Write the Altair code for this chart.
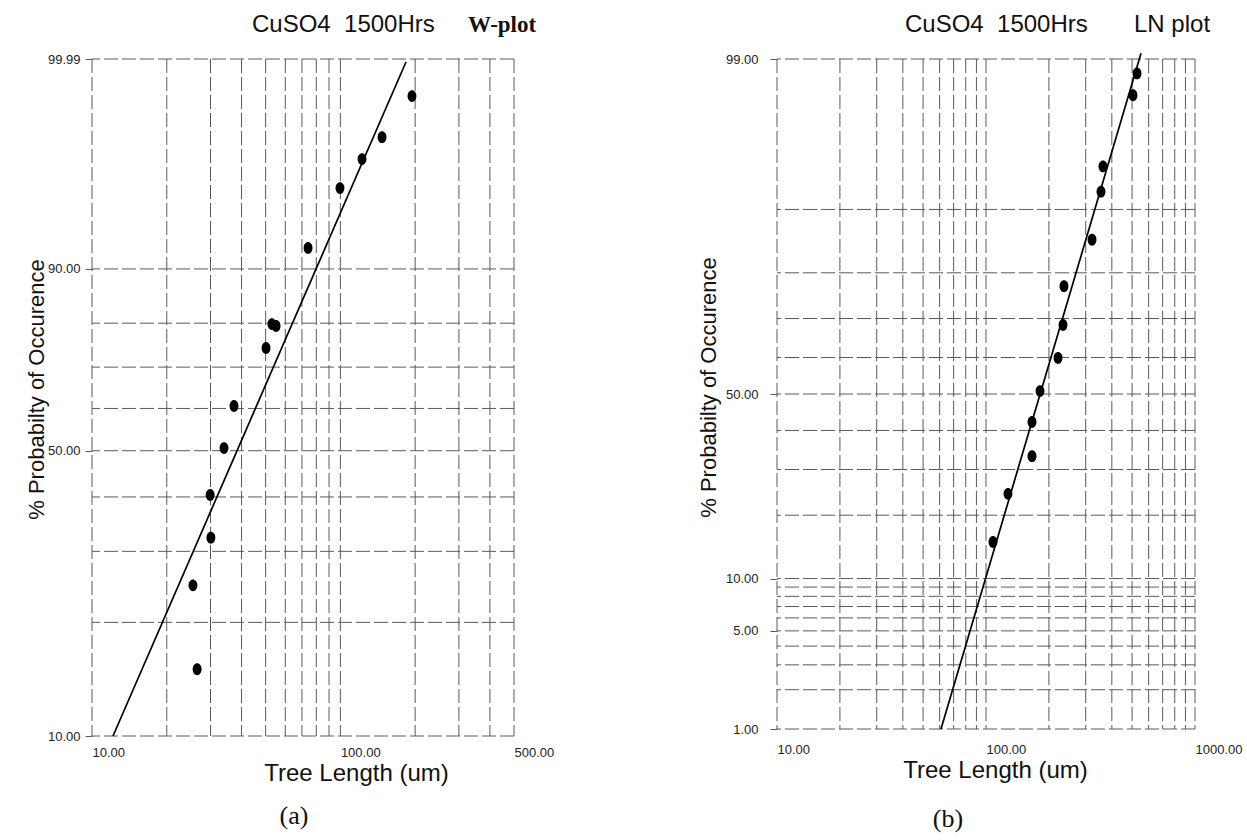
import math
from statistics import NormalDist
import altair as alt
import pandas as pd

# ---------------- panel (a): Weibull plot ----------------
a_length = [26.5, 25.5, 30.1, 29.9, 34.0, 37.3, 50.2, 53.0, 55.1, 74.1, 99.6, 122.2, 147.1, 194.2]
a_percent = [15.1, 24.8, 32.3, 40.4, 50.6, 60.6, 74.5, 79.8, 79.4, 92.9, 98.03, 99.14, 99.59, 99.926]
a_fit_length = [12.15, 183.7]
a_fit_percent = [10.0, 99.988]
a_x_grid = [10, 20, 30, 40, 50, 60, 70, 80, 90, 100, 200, 300, 400, 500]
a_y_grid = [10, 20, 30, 40, 50, 60, 70, 80, 90, 99.99]
a_x_ticks = [10, 100, 500]
a_y_ticks = [10, 50, 90, 99.99]

# ---------------- panel (b): lognormal plot ----------------
b_length = [108.0, 127.4, 166.0, 166.0, 181.3, 221.1, 233.6, 236.1, 321.6, 354.9, 362.8, 505.0, 527.9]
b_percent = [15.2, 24.4, 33.3, 42.3, 50.8, 59.9, 68.4, 77.3, 85.8, 92.0, 94.3, 98.1, 98.7]
b_fit_length = [60.9, 551.7]
b_fit_percent = [1.0, 99.1]
b_x_grid = [10, 20, 30, 40, 50, 60, 70, 80, 90, 100, 200, 300, 400, 500, 600, 700, 800, 900, 1000]
b_y_grid = [1, 2, 3, 4, 5, 6, 7, 8, 9, 10, 20, 30, 40, 50, 60, 70, 80, 90, 99]
b_x_ticks = [10, 100, 1000]
b_y_ticks = [1, 5, 10, 50, 99]

x_title = "Tree Length (um)"
y_title = "% Probabilty of Occurence"
header_main = "CuSO4\u00a0\u00a01500Hrs"
a_header = "W-plot"
b_header = "LN plot"
a_caption = "(a)"
b_caption = "(b)"


def weibull(p):
    return math.log(-math.log(1 - p / 100.0))


def normal(p):
    return NormalDist().inv_cdf(p / 100.0)


ELLIPSE = ("M0,-1C0.41,-1,0.75,-0.55,0.75,0C0.75,0.55,0.41,1,0,1"
           "C-0.41,1,-0.75,0.55,-0.75,0C-0.75,-0.55,-0.41,-1,0,-1Z")
GRID_COLOR = "#5a5a5a"


def label_expr(ticks_t, labels):
    pairs = sorted(zip(ticks_t, labels))
    expr = "'%s'" % pairs[-1][1]
    for i in range(len(pairs) - 2, -1, -1):
        mid = (pairs[i][0] + pairs[i + 1][0]) / 2
        expr = "datum.value < %.6f ? '%s' : (%s)" % (mid, pairs[i][1], expr)
    return expr


def panel(length, pct, fit_len, fit_pct, xgrid, ygrid, xticks, yticks, tf,
          xdom, ydom_pct, width, height, header2, header2_font, header2_weight,
          header2_size, hx1, hx2, caption, caption_dx, caption_offset,
          ytitle_x, ytitle_y, ytick_size, ylabel_pad, xlabel_pad, xtitle_pad, xtitle_x):
    ydom = [tf(ydom_pct[0]), tf(ydom_pct[1])]
    xscale = alt.Scale(type="log", domain=xdom, nice=False)
    yscale = alt.Scale(domain=ydom, nice=False, zero=False)
    yt = [tf(v) for v in yticks]
    xaxis = alt.Axis(values=xticks, format=".2f", labelAlign="left",
                     labelPadding=xlabel_pad, ticks=False, domain=False, grid=False,
                     labelFlush=False, labelOverlap=False,
                     title=x_title, titlePadding=xtitle_pad, titleX=xtitle_x,
                     titleAlign="center", titleBaseline="top",
                     labelFont="Liberation Sans", labelFontSize=13, labelColor="#222222",
                     titleFont="Liberation Sans", titleFontSize=24,
                     titleFontWeight="normal", titleColor="#111111")
    yaxis = alt.Axis(values=yt, labelExpr=label_expr(yt, ["%.2f" % v for v in yticks]),
                     ticks=True, tickSize=ytick_size, tickColor=GRID_COLOR,
                     domain=False, grid=False, labelPadding=ylabel_pad,
                     labelFlush=False, labelOverlap=False,
                     labelFont="Liberation Sans", labelFontSize=13, labelColor="#222222",
                     title=y_title, titleFont="Liberation Sans", titleFontSize=22,
                     titleFontWeight="normal", titleColor="#111111",
                     titleAngle=270, titleX=ytitle_x, titleY=ytitle_y,
                     titleAlign="center", titleBaseline="middle")

    def xe():
        return alt.X("x:Q", scale=xscale, axis=xaxis)

    def ye():
        return alt.Y("y:Q", scale=yscale, axis=yaxis)

    vgrid = alt.Chart(pd.DataFrame({"x": xgrid})).mark_rule(
        color=GRID_COLOR, strokeWidth=1, strokeDash=[14, 4]).encode(x=xe())
    hgrid = alt.Chart(pd.DataFrame({"y": [tf(v) for v in ygrid]})).mark_rule(
        color=GRID_COLOR, strokeWidth=1, strokeDash=[14, 4]).encode(y=ye())
    fit = alt.Chart(pd.DataFrame({"x": fit_len, "y": [tf(v) for v in fit_pct]})).mark_line(
        color="black", strokeWidth=1.7).encode(x=xe(), y=ye())
    pts = alt.Chart(pd.DataFrame({"x": length, "y": [tf(v) for v in pct]})).mark_point(
        shape=ELLIPSE, filled=True, color="black", opacity=1, size=140).encode(x=xe(), y=ye())
    h1 = alt.Chart(pd.DataFrame({"t": [header_main]})).mark_text(
        align="left", baseline="alphabetic", font="Liberation Sans", fontSize=24,
        color="#111111").encode(text="t:N", x=alt.value(hx1), y=alt.value(-27))
    h2 = alt.Chart(pd.DataFrame({"t": [header2]})).mark_text(
        align="left", baseline="alphabetic", font=header2_font, fontSize=header2_size,
        fontWeight=header2_weight, color="#111111").encode(
        text="t:N", x=alt.value(hx2), y=alt.value(-27))
    return alt.layer(vgrid, hgrid, fit, pts, h1, h2).properties(
        width=width, height=height,
        title=alt.TitleParams(caption, orient="bottom", anchor="middle",
                              font="Liberation Serif", fontSize=26, fontWeight="normal",
                              color="#111111", offset=caption_offset, dx=caption_dx))


pa = panel(a_length, a_percent, a_fit_length, a_fit_percent, a_x_grid, a_y_grid,
           a_x_ticks, a_y_ticks, weibull, [10, 500], [10, 99.99], 422, 677,
           a_header, "Liberation Serif", "bold", 23, 160, 376,
           a_caption, -9, 18, -56, 330, 7, 5, 10, 2, 264)
pb = panel(b_length, b_percent, b_fit_length, b_fit_percent, b_x_grid, b_y_grid,
           b_x_ticks, b_y_ticks, normal, [10, 1000], [1, 99], 418, 670,
           b_header, "Liberation Sans", "normal", 24, 128, 357,
           b_caption, -38, 24, -69, 328, 7, 12, 14, 2, 218)

chart = alt.hconcat(pa, pb, spacing=263, bounds="flush").properties(
    padding={"left": 25, "top": 13, "right": 5, "bottom": 5},
    background="white",
).configure_view(strokeWidth=0)

chart.save("out.html", embed_options={"renderer": "svg", "actions": False})
